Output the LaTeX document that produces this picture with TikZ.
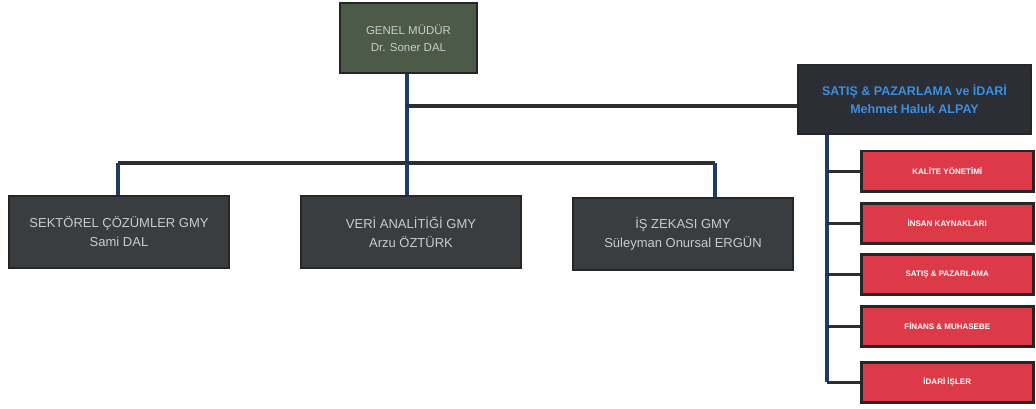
\documentclass[tikz,border=0pt]{standalone}
\usepackage{fontspec}
\setmainfont{Liberation Sans}
\definecolor{gmgreen}{HTML}{4B5B47}
\definecolor{darkbox}{HTML}{3A3D40}
\definecolor{satbox}{HTML}{2B2E35}
\definecolor{satblue}{HTML}{3B8FE0}
\definecolor{redbox}{HTML}{DC3A48}
\definecolor{navy}{HTML}{1F3C64}
\definecolor{hline}{HTML}{2A2F33}
\definecolor{txtgray}{HTML}{C9CCCC}
\begin{document}
\begin{tikzpicture}[x=1pt,y=-1pt,
  box/.style={draw=black!85,line width=2pt,anchor=north west,inner sep=0pt,align=center,font=\fontsize{11.5}{17}\selectfont},
  gm/.style={box,fill=gmgreen,text=txtgray,minimum width=137pt,minimum height=70pt},
  gmy/.style={box,fill=darkbox,text=txtgray,minimum width=220pt,minimum height=72pt,font=\fontsize{13}{19}\selectfont},
  sat/.style={box,fill=satbox,text=satblue,minimum width=233pt,minimum height=69pt,font=\fontsize{12.5}{18}\selectfont\bfseries},
  dept/.style={box,fill=redbox,text=white,line width=2.5pt,minimum width=172pt,minimum height=40pt,font=\fontsize{8}{10}\selectfont\bfseries},
  vl/.style={draw=navy,line width=3.5pt},
  hl/.style={draw=hline,line width=3.5pt}]
\useasboundingbox (0,0) rectangle (1036,409);
\node[gm] (genel) at (339,2) {GENEL MÜDÜR\\Dr. Soner DAL};
\node[sat] (satis) at (797,64) {SATIŞ \& PAZARLAMA ve İDARİ\\Mehmet Haluk ALPAY};
\node[gmy] (sek) at (8,195) {SEKTÖREL ÇÖZÜMLER GMY\\Sami DAL};
\node[gmy] (veri) at (300,195) {VERİ ANALİTİĞİ GMY\\Arzu ÖZTÜRK};
\node[gmy] (is) at (572,197) {İŞ ZEKASI GMY\\Süleyman Onursal ERGÜN};
\node[dept] (d1) at (860,150) {KALİTE YÖNETİMİ};
\node[dept] (d2) at (860,202) {İNSAN KAYNAKLARI};
\node[dept] (d3) at (860,253) {SATIŞ \& PAZARLAMA};
\node[dept] (d4) at (860,305) {FİNANS \& MUHASEBE};
\node[dept] (d5) at (860,361) {İDARİ İŞLER};
% connectors
\coordinate (trunk) at (407,163);
\coordinate (sattrunk) at (827,382);
\draw[vl] (genel.south -| trunk) -- (trunk);
\draw[hl] (407,106) -- (satis.west |- 0,106);
\draw[hl] (118,163) -- (715,163);
\draw[vl] (118,163) -- (sek.north -| 118,0);
\draw[vl] (veri.north -| 407,0) -- (407,163);
\draw[vl] (715,163) -- (is.north -| 715,0);
\draw[vl] (satis.south -| sattrunk) -- (sattrunk);
\foreach \d in {d1,d2,d3,d4,d5}{
  \draw[hl] (\d.west) -- (\d.west -| sattrunk);
}
\end{tikzpicture}
\end{document}
